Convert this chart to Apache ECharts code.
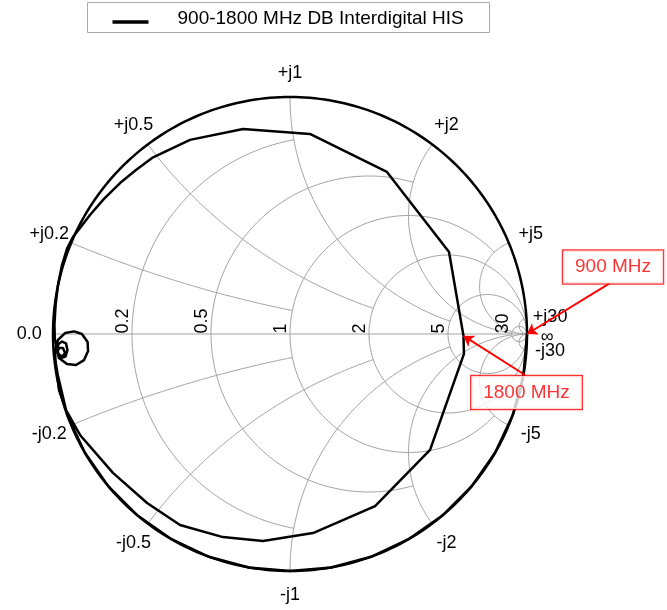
<!DOCTYPE html>
<html>
<head>
<meta charset="utf-8">
<script src="https://cdn.jsdelivr.net/npm/echarts@6/dist/echarts.min.js"></script>
<style>
  html, body { margin: 0; padding: 0; background: #fff; }
  #main { width: 667px; height: 610px; }
</style>
</head>
<body>
<div id="main"></div>
<script>
// ---- Data -------------------------------------------------------------
const seriesName = '900-1800 MHz DB Interdigital HIS';

// Reflection coefficient of the measured trace (real / imaginary part)
const traceRe = [
  1.000, 0.985, 0.940, 0.866, 0.766, 0.643, 0.500, 0.342, 0.174, 0.000,
  -0.174, -0.342, -0.500, -0.643, -0.766, -0.866, -0.940, -0.980,
  -0.989, -0.992, -0.979, -0.949, -0.911, -0.878, -0.854, -0.852, -0.869, -0.903, -0.941, -0.975, -0.983,
  -0.977, -0.962, -0.945, -0.939, -0.947, -0.966, -0.981,
  -0.975, -0.958, -0.949, -0.962, -0.977,
  -0.992, -0.994, -0.989, -0.979, -0.962, -0.941, -0.916,
  -0.886, -0.844, -0.785, -0.717, -0.650, -0.582, -0.422, -0.198, 0.084, 0.409, 0.671,
  0.732,
  0.734, 0.591, 0.359, 0.097, -0.114, -0.283, -0.464, -0.603, -0.747, -0.886, -0.945, -0.975, -0.983
];
const traceIm = [
  0.000, -0.174, -0.342, -0.500, -0.643, -0.766, -0.866, -0.940, -0.985, -1.000,
  -0.985, -0.940, -0.866, -0.766, -0.643, -0.500, -0.342, -0.172,
  -0.118, -0.068, -0.025, 0.004, 0.011, 0.000, -0.034, -0.072, -0.110, -0.131, -0.127, -0.101, -0.068,
  -0.042, -0.032, -0.040, -0.068, -0.095, -0.101, -0.076,
  -0.059, -0.059, -0.080, -0.095, -0.084,
  -0.025, 0.038, 0.122, 0.207, 0.291, 0.359, 0.409,
  0.447, 0.502, 0.570, 0.637, 0.692, 0.743, 0.819, 0.865, 0.844, 0.684, 0.346,
  -0.008,
  -0.084, -0.489, -0.726, -0.840, -0.873, -0.857, -0.806, -0.713, -0.586, -0.426, -0.321, -0.236, -0.160
];

// Frequency markers: trace index, box centre and arrow tail (reflection plane)
const markerLabels = ['900 MHz', '1800 MHz'];
const markerIndex  = [0, 61];
const markerBoxRe  = [1.363, 0.998];
const markerBoxIm  = [0.283, -0.247];
const arrowTailRe  = [1.350, 0.992];
const arrowTailIm  = [0.215, -0.173];

// Smith chart grid: normalised resistance / reactance values and their labels
const gridValues = [0.2, 0.5, 1, 2, 5, 30];
const gridLabels = ['0.2', '0.5', '1', '2', '5', '30'];

// ---- Layout ------------------------------------------------------------
const W = 667, H = 610;
const CX = 290, CY = 334, RPX = 237;          // chart centre and unit radius in px
const xMin = -CX / RPX, xMax = (W - CX) / RPX;
const yMin = -(H - CY) / RPX, yMax = CY / RPX;

const FONT = '"Liberation Sans", Arial, Helvetica, sans-serif';
const GRID_COLOR = '#a3a3a3';

// z = r + jx  ->  reflection coefficient
function gamma(r, x) {
  const d = (r + 1) * (r + 1) + x * x;
  return [(r * r + x * x - 1) / d, 2 * x / d];
}

// constant-resistance circle, drawn for |x| <= xLim
function resistanceArc(r, xLim) {
  const c = r / (r + 1), rad = 1 / (r + 1);
  let a0 = 0, a1 = 2 * Math.PI;
  if (isFinite(xLim)) {
    const g = gamma(r, xLim);
    a0 = Math.atan2(g[1], g[0] - c);
    a1 = 2 * Math.PI - a0;
  }
  const pts = [], n = 300;
  for (let k = 0; k <= n; k++) {
    const a = a0 + (a1 - a0) * k / n;
    pts.push([c + rad * Math.cos(a), rad * Math.sin(a)]);
  }
  return pts;
}

// constant-reactance arc, drawn for 0 <= r <= rLim
function reactanceArc(x, rLim) {
  const s = Math.sign(x), ax = Math.abs(x);
  const cy = 1 / ax, rad = 1 / ax;
  const norm = a => {
    while (a < Math.PI / 2) a += 2 * Math.PI;
    while (a >= 2.5 * Math.PI) a -= 2 * Math.PI;
    return a;
  };
  const g0 = gamma(0, ax);
  const a0 = norm(Math.atan2(g0[1] - cy, g0[0] - 1));
  let a1 = 1.5 * Math.PI;
  if (isFinite(rLim)) {
    const g1 = gamma(rLim, ax);
    a1 = norm(Math.atan2(g1[1] - cy, g1[0] - 1));
  }
  const pts = [], n = 300;
  for (let k = 0; k <= n; k++) {
    const a = a0 + (a1 - a0) * k / n;
    pts.push([1 + rad * Math.cos(a), s * (cy + rad * Math.sin(a))]);
  }
  return pts;
}

const limitFor = i => (i + 2 < gridValues.length ? gridValues[i + 2] : Infinity);

function gridLine(points, color, width, z) {
  return {
    type: 'line', data: points, showSymbol: false, silent: true, clip: false,
    lineStyle: { color: color, width: width }, z: z, animation: false
  };
}

const series = [];

// resistance circles and reactance arcs
gridValues.forEach((v, i) => {
  series.push(gridLine(resistanceArc(v, limitFor(i)), GRID_COLOR, 1, 1));
  series.push(gridLine(reactanceArc(v, limitFor(i)), GRID_COLOR, 1, 1));
  series.push(gridLine(reactanceArc(-v, limitFor(i)), GRID_COLOR, 1, 1));
});
// real axis
series.push(gridLine([[-1, 0], [1, 0]], GRID_COLOR, 1, 1));
// outer boundary |Γ| = 1
series.push(gridLine(resistanceArc(0, Infinity), '#000', 2.5, 3));

// measured trace
series.push({
  name: seriesName, type: 'line', showSymbol: false, clip: false, animation: false,
  data: traceRe.map((v, i) => [v, traceIm[i]]),
  lineStyle: { color: '#000', width: 2.5, join: 'round' }, z: 4
});

// reactance labels around the rim
const rimLabelPos = [], rimLabelText = [];
gridValues.forEach((v, i) => {
  const gp = gamma(0, v), gn = gamma(0, -v);
  rimLabelPos.push([gp[0] * 1.1, gp[1] * 1.1]); rimLabelText.push('+j' + gridLabels[i]);
  rimLabelPos.push([gn[0] * 1.1, gn[1] * 1.1]); rimLabelText.push('-j' + gridLabels[i]);
});
rimLabelPos.push([-1.1, 0]);  rimLabelText.push('0.0');
rimLabelPos.push([1.085, -0.012]); rimLabelText.push('\u221E');

series.push({
  type: 'custom', silent: true, animation: false, z: 6,
  data: rimLabelPos,
  renderItem: (params, api) => {
    const p = api.coord([api.value(0), api.value(1)]);
    return {
      type: 'text', x: p[0], y: p[1],
      style: {
        text: rimLabelText[params.dataIndex], fill: '#000',
        font: '18px ' + FONT, align: 'center', verticalAlign: 'middle'
      }
    };
  }
});

// resistance labels along the real axis (rotated)
series.push({
  type: 'custom', silent: true, animation: false, z: 6,
  data: gridValues.map(v => [(v - 1) / (v + 1), 0]),
  renderItem: (params, api) => {
    const p = api.coord([api.value(0), api.value(1)]);
    return {
      type: 'text', x: p[0] + 0.5, y: p[1] - 0.5, rotation: Math.PI / 2,
      style: {
        text: gridLabels[params.dataIndex], fill: '#000',
        font: '18px ' + FONT, align: 'left', verticalAlign: 'bottom'
      }
    };
  }
});

// frequency marker arrows
series.push({
  type: 'lines', coordinateSystem: 'cartesian2d', silent: true, animation: false, z: 7,
  symbol: ['none', 'arrow'], symbolSize: 10,
  lineStyle: { color: '#ff0000', width: 2, opacity: 1, curveness: 0 },
  data: markerIndex.map((idx, k) => ({
    coords: [[arrowTailRe[k], arrowTailIm[k]], [traceRe[idx], traceIm[idx]]]
  }))
});

// frequency marker boxes
series.push({
  type: 'scatter', silent: true, animation: false, z: 8, clip: false,
  symbolSize: 1, itemStyle: { color: 'rgba(0,0,0,0)' },
  data: markerBoxRe.map((v, k) => [v, markerBoxIm[k]]),
  label: {
    show: true, position: 'inside',
    formatter: p => markerLabels[p.dataIndex],
    color: '#ff0000', fontFamily: FONT, fontSize: 19, lineHeight: 21,
    backgroundColor: '#fff', borderColor: '#ff0000', borderWidth: 1.2,
    padding: [6, 12, 6, 12]
  }
});

const chart = echarts.init(document.getElementById('main'), null, { renderer: 'canvas' });
chart.setOption({
  animation: false,
  backgroundColor: '#fff',
  grid: { left: 0, right: 0, top: 0, bottom: 0 },
  xAxis: { type: 'value', min: xMin, max: xMax, show: false },
  yAxis: { type: 'value', min: yMin, max: yMax, show: false },
  graphic: [{
    type: 'group', left: 87, top: 2,
    children: [
      { type: 'rect', shape: { x: 0, y: 0, width: 402, height: 30 },
        style: { fill: '#fff', stroke: '#aaaaaa', lineWidth: 1 } },
      { type: 'line', shape: { x1: 25, y1: 19.5, x2: 61, y2: 19.5 },
        style: { stroke: '#000', lineWidth: 3.5 } },
      { type: 'text', x: 90, y: 16,
        style: { text: seriesName, fill: '#000', font: '19px ' + FONT, verticalAlign: 'middle' } }
    ]
  }],
  series: series
});
</script>
</body>
</html>
